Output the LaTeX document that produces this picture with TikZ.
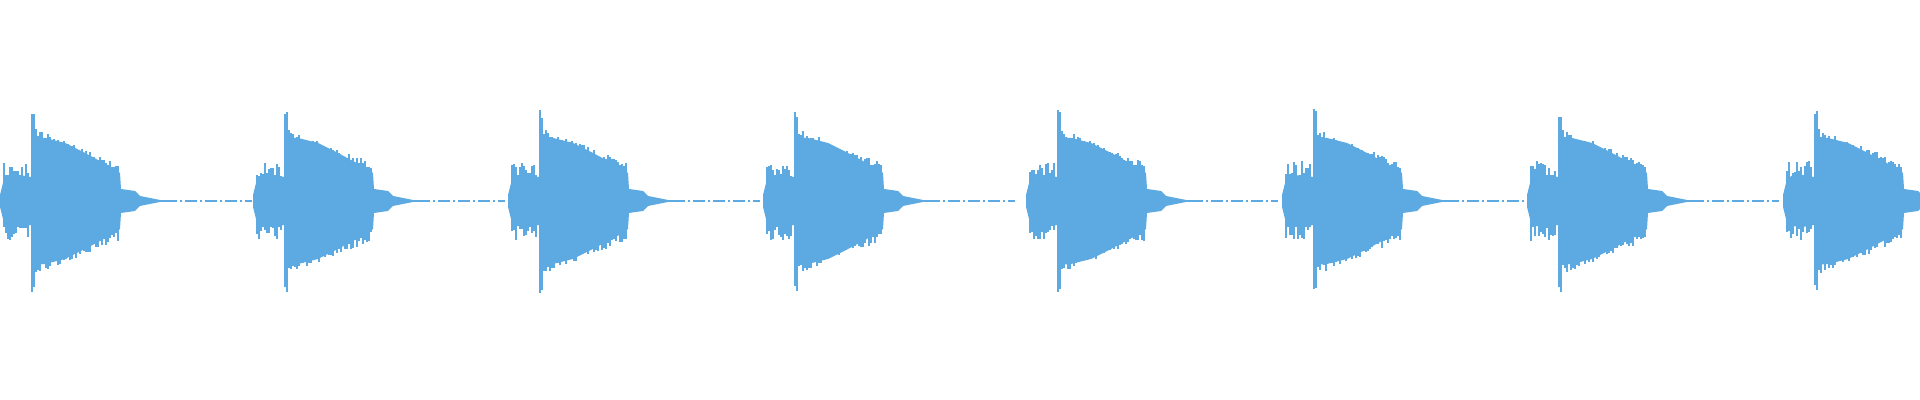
\documentclass[tikz,border=0pt]{standalone}
\definecolor{wave}{RGB}{93,170,226}
\tikzset{spk/.style={draw=wave,line width=0.7pt}}
\newcommand\myburst[1]{%
\begin{scope}[shift={(#1,199)}]
\fill[wave] (0,-6) -- (0,6) -- (3,18) -- (8,25) -- (20,26) -- (31,24) -- (31,64) -- (45,63) -- (65,58) -- (85,48) -- (100,40) -- (115,32) -- (120,28) -- (121,12) -- (135,10) -- (140,5) -- (150,3) -- (160,1) -- (170,0.6)
 -- (170,-0.6) -- (160,-1) -- (150,-3) -- (140,-5) -- (135,-10) -- (121,-12) -- (120,-28) -- (115,-32) -- (100,-40) -- (85,-48) -- (65,-58) -- (45,-63) -- (31,-64) -- (31,-24) -- (20,-26) -- (8,-25) -- (3,-18) -- cycle;
\foreach \x in {4,6,...,29}{\pgfmathsetmacro\h{24+16*rnd}\pgfmathsetmacro\g{24+16*rnd}\draw[spk] (\x,-\g) -- (\x,\h);}
\foreach \x in {32,34,...,119}{\pgfmathsetmacro\e{64-0.4*(\x-31)}\pgfmathsetmacro\h{\e+2+8*rnd+ (\x<36 ? 18 : 0)}\pgfmathsetmacro\g{\e+2+9*rnd+(\x<36 ? 18 : 0)}\draw[spk] (\x,-\g) -- (\x,\h);}
\draw[wave,line width=0.6pt,dash pattern=on 6pt off 1.5pt on 1pt off 1.5pt] (165,0) -- (252,0);
\end{scope}}
\begin{document}
\begin{tikzpicture}[x=0.5pt,y=0.5pt]
\pgfmathsetseed{7}
\fill[white] (0,0) rectangle (1920,400);
\useasboundingbox (0,0) rectangle (1920,400);
\begin{scope}
\clip (0,0) rectangle (1920,400);
\foreach \s in {0,253,508,763,1026,1282,1527,1783}{\myburst{\s}}
\end{scope}
\end{tikzpicture}
\end{document}
